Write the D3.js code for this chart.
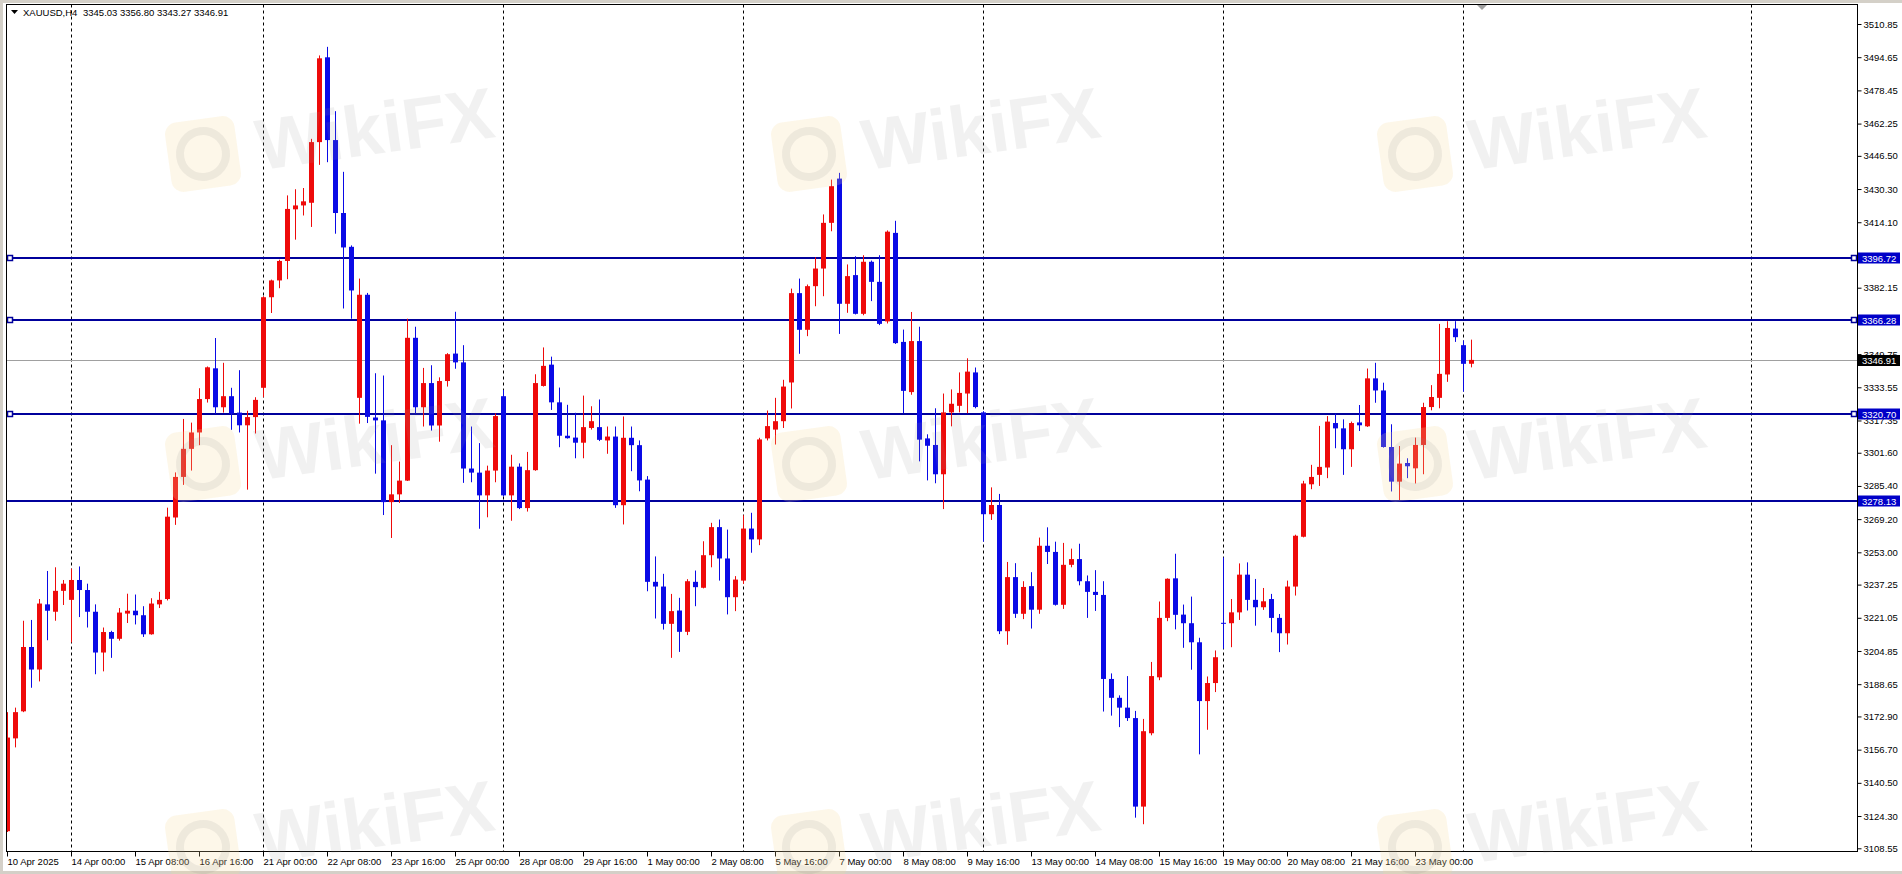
<!DOCTYPE html>
<html><head><meta charset="utf-8">
<script src="https://cdn.jsdelivr.net/npm/d3@7"></script>
<style>
html,body{margin:0;padding:0;background:#fff;overflow:hidden;}
svg{display:block;font-family:"Liberation Sans",Arial,sans-serif;}
</style></head><body>
<svg id="c" width="1902" height="874"></svg>
<script>
// ---------------- DATA ----------------
const symbolName = "XAUUSD,H4";
const headerValues = ["3345.03", "3356.80", "3343.27", "3346.91"];

const opens = [3116.9,3162.2,3175.4,3206.8,3195.8,3227.6,3224.0,3234.2,3229.8,3239.5,
3234.6,3224.0,3204.1,3214.1,3210.8,3223.1,3224.5,3222.3,3213.0,3227.6,
3230.2,3270.0,3289.8,3303.5,3311.5,3327.8,3342.8,3323.8,3329.2,3321.2,
3315.0,3319.0,3333.3,3377.5,3385.7,3395.2,3420.4,3422.3,3423.6,3453.2,
3494.6,3454.2,3418.6,3402.1,3328.4,3378.7,3318.8,3317.4,3277.5,3281.3,
3288.0,3357.7,3323.8,3335.6,3314.9,3336.6,3350.0,3345.7,3293.9,3291.9,
3280.8,3292.9,3329.2,3280.8,3294.8,3274.6,3293.1,3334.2,3344.6,3326.2,
3309.9,3309.0,3306.5,3313.7,3314.1,3307.6,3309.5,3276.0,3308.9,3305.3,
3288.5,3238.6,3236.3,3218.1,3224.6,3214.2,3238.6,3235.7,3251.6,3265.3,
3250.0,3231.1,3239.2,3264.6,3259.3,3308.6,3312.9,3317.0,3335.9,3379.5,
3361.6,3382.9,3391.5,3413.8,3435.4,3374.3,3388.3,3369.4,3394.8,3385.0,
3365.7,3408.9,3355.7,3331.2,3356.1,3308.6,3305.4,3291.1,3321.3,3324.5,
3330.5,3340.8,3321.3,3271.6,3276.1,3214.5,3240.9,3223.0,3236.5,3225.0,
3256.2,3253.2,3227.4,3246.9,3249.7,3238.9,3233.7,3232.2,3191.2,3182.0,
3177.2,3172.1,3128.9,3164.7,3192.0,3221.0,3240.3,3222.6,3218.4,3209.1,
3180.4,3189.2,3218.6,3218.4,3223.7,3242.1,3229.8,3226.2,3230.2,3221.0,
3213.5,3236.3,3260.6,3286.2,3290.8,3294.4,3316.1,3313.5,3303.3,3316.4,
3314.5,3337.9,3332.0,3304.4,3287.5,3296.6,3294.0,3305.4,3323.9,3328.4,
3339.8,3362.2,3354.1,3345.03];

const highs = [3175.0,3177.2,3219.6,3220.0,3230.2,3243.9,3245.7,3239.5,3245.0,3246.1,
3237.7,3227.6,3216.3,3214.7,3225.8,3232.8,3232.4,3226.7,3230.6,3233.7,
3274.8,3292.0,3318.1,3316.3,3333.1,3343.7,3357.6,3345.5,3333.3,3341.9,
3322.1,3328.7,3378.0,3386.1,3395.8,3427.2,3430.2,3430.8,3454.8,3495.5,
3499.7,3468.3,3438.7,3402.8,3386.6,3379.6,3340.4,3339.3,3305.3,3297.3,
3367.0,3363.1,3343.0,3344.3,3338.4,3350.2,3370.4,3354.1,3314.4,3306.3,
3295.3,3320.8,3332.2,3300.6,3296.4,3302.0,3339.9,3353.0,3348.5,3333.4,
3325.0,3321.1,3329.5,3324.3,3327.6,3314.4,3314.4,3319.3,3314.4,3307.6,
3290.2,3251.0,3242.5,3232.7,3230.8,3239.9,3244.1,3258.4,3267.4,3269.0,
3264.1,3241.4,3271.1,3272.3,3308.9,3322.2,3328.4,3337.2,3381.7,3386.6,
3383.7,3397.0,3417.9,3434.9,3438.2,3393.5,3397.5,3398.0,3395.4,3398.0,
3410.1,3414.8,3361.7,3370.3,3363.1,3310.6,3323.3,3330.5,3332.5,3340.8,
3347.7,3343.2,3321.9,3284.7,3281.5,3248.3,3247.7,3238.9,3243.3,3260.2,
3265.2,3258.2,3257.6,3254.8,3257.2,3241.7,3244.3,3238.9,3193.9,3183.2,
3192.6,3175.6,3171.7,3199.5,3229.0,3240.3,3252.3,3227.5,3231.4,3211.3,
3192.4,3205.1,3250.5,3230.2,3247.6,3248.1,3240.0,3235.6,3232.7,3222.9,
3239.2,3261.6,3287.9,3295.7,3314.7,3319.5,3320.7,3317.9,3316.8,3324.9,
3342.7,3345.5,3335.8,3315.5,3304.9,3298.9,3309.0,3326.0,3334.6,3364.5,
3365.8,3365.8,3356.4,3356.80];

const lows = [3116.5,3157.8,3175.0,3186.9,3190.0,3210.1,3219.6,3227.3,3209.0,3221.4,
3216.3,3193.5,3194.9,3201.5,3209.9,3218.5,3217.8,3211.7,3212.8,3225.8,
3229.5,3266.4,3285.9,3292.9,3305.3,3326.1,3320.7,3321.2,3312.8,3311.5,
3283.6,3311.0,3328.7,3369.8,3381.9,3386.3,3405.6,3417.4,3411.8,3442.1,
3443.4,3408.5,3372.0,3367.0,3315.8,3316.1,3291.4,3271.2,3260.0,3277.1,
3287.8,3320.8,3314.4,3312.4,3307.0,3333.9,3342.6,3286.9,3287.2,3264.5,
3270.1,3287.2,3280.2,3268.4,3274.1,3272.9,3292.8,3333.9,3322.5,3304.3,
3308.5,3298.9,3298.9,3312.9,3307.3,3301.1,3274.7,3266.6,3292.6,3282.8,
3234.0,3220.7,3215.3,3201.5,3204.4,3212.6,3226.7,3235.4,3245.7,3239.2,
3222.7,3224.3,3237.6,3252.8,3256.5,3307.6,3305.6,3313.7,3323.2,3349.9,
3358.5,3373.1,3378.0,3409.7,3359.6,3369.9,3369.1,3368.7,3375.6,3363.9,
3364.7,3354.7,3320.9,3329.9,3297.4,3288.1,3286.7,3274.1,3314.5,3321.3,
3320.9,3323.3,3258.2,3268.8,3213.1,3207.9,3221.0,3220.4,3215.8,3223.0,
3247.3,3227.0,3225.4,3245.7,3236.9,3221.0,3224.4,3175.3,3173.3,3167.7,
3170.7,3123.5,3120.3,3163.7,3190.6,3219.4,3215.4,3206.4,3195.7,3154.4,
3166.4,3184.8,3205.9,3206.7,3220.0,3224.6,3217.2,3224.9,3214.0,3204.3,
3208.0,3231.9,3260.3,3283.8,3285.4,3289.2,3303.8,3290.8,3294.7,3312.2,
3314.2,3326.0,3304.1,3282.7,3278.5,3289.2,3286.6,3291.1,3322.3,3323.3,
3336.2,3355.7,3331.4,3343.27];

const closes = [3162.6,3175.0,3206.8,3195.8,3228.0,3224.5,3234.2,3237.7,3239.5,3234.6,
3224.0,3204.1,3214.1,3210.8,3223.6,3224.5,3222.3,3213.0,3228.0,3229.8,
3270.4,3289.8,3303.5,3311.5,3327.8,3343.3,3323.8,3329.2,3320.7,3315.0,
3319.0,3327.4,3377.5,3385.7,3395.2,3420.6,3422.3,3424.3,3453.2,3494.1,
3454.2,3418.6,3401.8,3380.8,3378.7,3319.1,3317.4,3277.5,3281.3,3288.0,
3357.7,3323.8,3335.6,3314.9,3336.6,3349.7,3345.7,3293.9,3291.9,3280.8,
3292.9,3319.5,3280.8,3294.8,3274.6,3293.1,3335.6,3344.0,3326.2,3309.9,
3308.7,3306.5,3314.1,3317.0,3307.9,3309.5,3276.0,3308.9,3305.3,3288.1,
3238.6,3236.3,3218.1,3224.3,3214.2,3238.9,3236.0,3251.6,3265.3,3250.0,
3231.1,3239.7,3264.6,3259.3,3308.1,3314.6,3317.0,3333.9,3379.5,3361.6,
3382.9,3391.5,3413.8,3431.7,3374.3,3387.8,3369.4,3394.8,3385.0,3364.5,
3409.5,3355.1,3331.8,3356.1,3308.0,3305.0,3291.1,3321.3,3325.5,3330.8,
3341.2,3323.9,3271.6,3276.1,3214.5,3240.9,3223.0,3236.1,3225.0,3256.2,
3253.2,3227.4,3246.9,3249.7,3238.9,3233.7,3232.2,3191.2,3182.0,3177.2,
3172.1,3128.9,3165.7,3192.6,3221.0,3240.1,3222.5,3218.4,3209.1,3180.4,
3189.2,3201.8,3218.2,3223.7,3242.1,3229.8,3226.2,3229.1,3221.0,3213.5,
3236.3,3261.1,3286.6,3289.8,3294.7,3316.8,3313.5,3303.3,3316.1,3315.0,
3337.9,3332.0,3304.4,3287.5,3296.3,3295.0,3305.4,3323.9,3328.8,3340.1,
3362.5,3358.0,3345.0,3346.91];

const xLabels = ["10 Apr 2025","14 Apr 00:00","15 Apr 08:00","16 Apr 16:00","21 Apr 00:00",
"22 Apr 08:00","23 Apr 16:00","25 Apr 00:00","28 Apr 08:00","29 Apr 16:00","1 May 00:00",
"2 May 08:00","5 May 16:00","7 May 00:00","8 May 08:00","9 May 16:00","13 May 00:00",
"14 May 08:00","15 May 16:00","19 May 00:00","20 May 08:00","21 May 16:00","23 May 00:00"];
const xLabelBars = [0,8,16,24,32,40,48,56,64,72,80,88,96,104,112,120,128,136,144,152,160,168,176];
const separatorBars = [8,32,62,92,122,152,182,218];

const yTicks = [3510.85,3494.65,3478.45,3462.25,3446.50,3430.30,3414.10,3397.90,3382.15,
3365.95,3349.75,3333.55,3317.35,3301.60,3285.40,3269.20,3253.00,3237.25,3221.05,3204.85,
3188.65,3172.90,3156.70,3140.50,3124.30,3108.55];

const levels = [3396.72, 3366.28, 3320.70, 3278.13];
const levelHasHandles = [true, true, true, false];
const lastPrice = 3346.91;

// ---------------- LAYOUT ----------------
const W = 1902, H = 874;
const L = 6.5, T = 4.5, R = 1857.5, B = 851.5;
const barStep = 8, bodyW = 5;
const colUp = "#ee0a0a", colDown = "#0a0ae6", levelCol = "#00009c";

const svg = d3.select("#c");
const x = d3.scaleLinear().domain([0, 1]).range([7.5, 7.5 + barStep]);
const y = d3.scaleLinear().domain([3108.55, 3510.85]).range([848.3, 24]);

// outer window chrome
svg.append("rect").attr("x",0).attr("y",0).attr("width",W).attr("height",H).attr("fill","#fff");
svg.append("rect").attr("x",0).attr("y",0).attr("width",W).attr("height",3).attr("fill","#d4d0c8");
svg.append("rect").attr("x",0).attr("y",0).attr("width",3).attr("height",H).attr("fill","#d4d0c8");
svg.append("rect").attr("x",0).attr("y",871).attr("width",W).attr("height",3).attr("fill","#d4d0c8");

svg.append("defs").append("clipPath").attr("id","plot")
  .append("rect").attr("x",L+0.5).attr("y",T+0.5).attr("width",R-L-1).attr("height",B-T-1);

const plot = svg.append("g").attr("clip-path","url(#plot)");

// week separators
plot.selectAll("line.sep").data(separatorBars).join("line").attr("class","sep")
  .attr("x1",d=>Math.round(x(d))-0.5).attr("x2",d=>Math.round(x(d))-0.5)
  .attr("y1",T).attr("y2",B).attr("stroke","#000").attr("stroke-width",1).attr("stroke-dasharray","3,3");

// current price line
plot.append("line").attr("x1",L).attr("x2",R).attr("y1",Math.round(y(lastPrice))+0.5).attr("y2",Math.round(y(lastPrice))+0.5)
  .attr("stroke","#a0a0a0").attr("stroke-width",1);

// horizontal levels
plot.selectAll("line.lvl").data(levels).join("line").attr("class","lvl")
  .attr("x1",L).attr("x2",R).attr("y1",d=>Math.round(y(d))).attr("y2",d=>Math.round(y(d)))
  .attr("stroke",levelCol).attr("stroke-width",2);

// candles
const idx = d3.range(opens.length);
const cg = plot.append("g");
cg.selectAll("line.wick").data(idx).join("line").attr("class","wick")
  .attr("x1",i=>Math.round(x(i))-0.5).attr("x2",i=>Math.round(x(i))-0.5)
  .attr("y1",i=>y(highs[i])).attr("y2",i=>y(lows[i]))
  .attr("stroke",i=>closes[i]>opens[i]?colUp:colDown).attr("stroke-width",1);
cg.selectAll("rect.body").data(idx).join("rect").attr("class","body")
  .attr("x",i=>Math.round(x(i))-3).attr("width",bodyW)
  .attr("y",i=>y(Math.max(opens[i],closes[i])))
  .attr("height",i=>Math.max(1, y(Math.min(opens[i],closes[i]))-y(Math.max(opens[i],closes[i]))))
  .attr("fill",i=>closes[i]>opens[i]?colUp:colDown);

// level handles
levels.forEach((v,k) => {
  if (!levelHasHandles[k]) return;
  const yy = Math.round(y(v));
  [10, 1854].forEach(cx => {
    svg.append("rect").attr("x",cx-2.5).attr("y",yy-2.5).attr("width",5).attr("height",5)
      .attr("fill","#fff").attr("stroke",levelCol).attr("stroke-width",1.5);
  });
});

// frame
svg.append("rect").attr("x",L).attr("y",T).attr("width",R-L).attr("height",B-T)
  .attr("fill","none").attr("stroke","#000").attr("stroke-width",1);

// chart shift marker
svg.append("path").attr("d","M1477,5 L1487,5 L1482,10 Z").attr("fill","#a0a0a0");

// y axis
const yAxis = d3.axisRight(y).tickValues(yTicks).tickSize(4).tickPadding(2).tickFormat(d3.format(".2f"));
const ya = svg.append("g").attr("transform",`translate(${R},0)`).call(yAxis);
ya.select(".domain").remove();
ya.selectAll("text").attr("font-size","9.5px").attr("fill","#000").attr("font-family","Liberation Sans, Arial, sans-serif");
ya.selectAll("line").attr("stroke","#000");

// level labels
levels.forEach(v => {
  const yy = Math.round(y(v));
  svg.append("rect").attr("x",1858).attr("y",yy-5.5).attr("width",42).attr("height",11).attr("fill","#0000c8");
  svg.append("text").attr("x",1862).attr("y",yy+3.5).attr("font-size","9.5px").attr("fill","#fff").text(d3.format(".2f")(v));
});
{
  const yy = Math.round(y(lastPrice));
  svg.append("rect").attr("x",1858).attr("y",yy-5).attr("width",42).attr("height",11).attr("fill","#000");
  svg.append("text").attr("x",1862).attr("y",yy+4).attr("font-size","9.5px").attr("fill","#fff").text(d3.format(".2f")(lastPrice));
}

// x axis
const xa = svg.append("g");
xLabelBars.forEach((b,k) => {
  const xx = Math.round(x(b))-0.5;
  xa.append("line").attr("x1",xx).attr("x2",xx).attr("y1",B).attr("y2",B+5).attr("stroke","#000");
  xa.append("text").attr("x",xx).attr("y",865).attr("font-size","9.5px").attr("fill","#000").text(xLabels[k]);
});

// header
svg.append("path").attr("d","M11,10 L18,10 L14.5,14 Z").attr("fill","#000");
svg.append("text").attr("x",23).attr("y",16).attr("font-size","9.5px").attr("fill","#000").text(symbolName);
svg.append("text").attr("x",83).attr("y",16).attr("font-size","9.5px").attr("fill","#000").text(headerValues.join(" "));

// watermark overlay (WikiFX)
const wm = svg.append("g").style("pointer-events","none");
const wmCols = [203, 809, 1415];
const wmRows = [154, 464, 847];
wmRows.forEach(cy => wmCols.forEach(cx => {
  const g = wm.append("g").attr("transform",`translate(${cx},${cy}) rotate(-8)`);
  g.append("rect").attr("x",-35).attr("y",-35).attr("width",70).attr("height",70).attr("rx",12)
    .attr("fill","#f5dc9a").attr("opacity",0.22);
  g.append("circle").attr("r",23).attr("fill","none").attr("stroke","#8a8a8a").attr("stroke-width",8).attr("opacity",0.13);
  g.append("text").attr("x",54).attr("y",24).attr("font-size",72).attr("font-weight","bold")
    .attr("fill","#9c9c9c").attr("opacity",0.13).attr("font-family","Liberation Sans, Arial, sans-serif")
    .text("WikiFX");
}));
</script>
</body></html>
